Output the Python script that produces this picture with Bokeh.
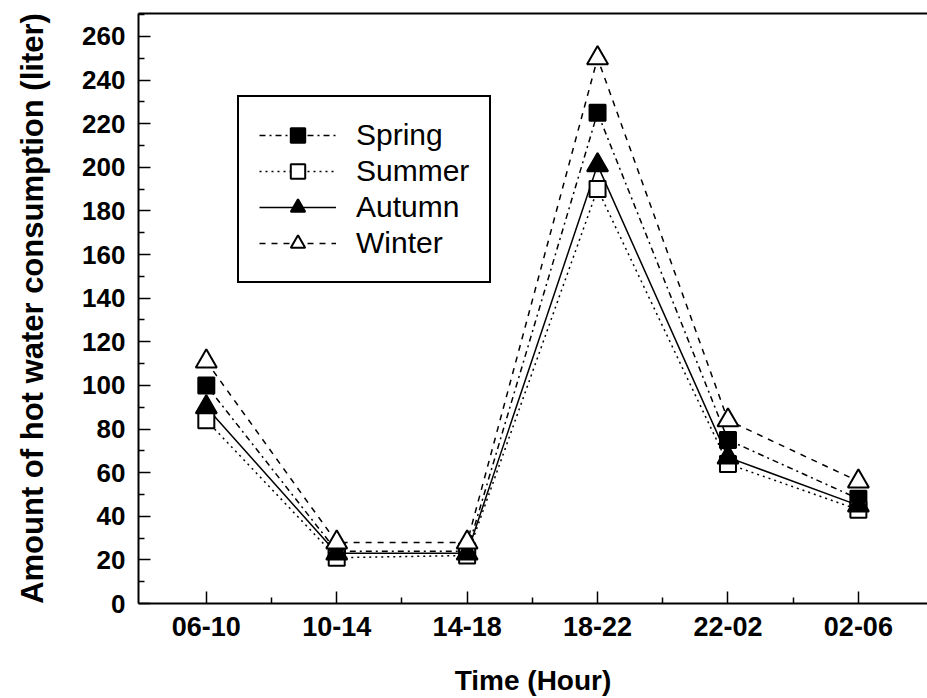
from bokeh.plotting import figure
from bokeh.models import Range1d, FixedTicker, Legend, LegendItem, LinearAxis
from bokeh.embed import file_html
from bokeh.resources import INLINE

periods = ["06-10", "10-14", "14-18", "18-22", "22-02", "02-06"]
spring = [100, 24, 24, 225, 75, 48]
summer = [84, 21, 22, 190, 64, 43]
autumn = [90, 23, 23, 201, 67, 45]
winter = [111, 28, 28, 250, 84, 56]
y_major = list(range(0, 261, 20))
y_minor = list(range(10, 271, 20))

x = list(range(len(periods)))
FONT = "Liberation Sans"

p = figure(width=927, height=698, output_backend="svg", toolbar_location=None,
           x_range=Range1d(-0.52, 5.53), y_range=Range1d(0, 270.5),
           min_border_left=138, min_border_right=0, min_border_top=13, min_border_bottom=93,
           x_axis_label="Time (Hour)", y_axis_label="Amount of hot water consumption (liter)")
p.outline_line_color = None
p.grid.grid_line_color = None
p.background_fill_color = "white"
p.border_fill_color = "white"

xa = p.below[0]
ya = p.left[0]
xa.ticker = FixedTicker(ticks=x, minor_ticks=[i + 0.5 for i in x[:-1]])
xa.major_label_overrides = {i: s for i, s in zip(x, periods)}
ya.ticker = FixedTicker(ticks=y_major, minor_ticks=y_minor)

for ax in (xa, ya):
    ax.axis_line_width = 2
    ax.axis_line_color = "black"
    ax.major_tick_in = 12
    ax.major_tick_out = 0
    ax.minor_tick_in = 6
    ax.minor_tick_out = 0
    ax.major_tick_line_width = 1.5
    ax.minor_tick_line_width = 1.5
    ax.major_tick_line_color = "black"
    ax.minor_tick_line_color = "black"
    ax.major_label_text_font = FONT
    ax.major_label_text_font_style = "bold"
    ax.major_label_text_font_size = "26px"
    ax.major_label_text_color = "black"
    ax.axis_label_text_font = FONT
    ax.axis_label_text_font_style = "bold"
    ax.axis_label_text_font_size = "28px"
    ax.axis_label_text_color = "black"

xa.major_label_text_font_size = "27px"
xa.major_label_standoff = 13
xa.axis_label_standoff = 26
ya.major_label_standoff = 13
ya.axis_label_standoff = 29
ya.axis_label_text_font_size = "31px"

# top spine
top = LinearAxis(ticker=FixedTicker(ticks=[]), major_label_text_font_size="0px",
                 major_tick_in=0, major_tick_out=0, minor_tick_in=0, minor_tick_out=0,
                 axis_line_width=2, axis_line_color="black")
p.add_layout(top, "above")

series = [
    ("Spring", spring, "square", "black", 16, "dashdot"),
    ("Summer", summer, "square", "white", 16, "dotted"),
    ("Autumn", autumn, "triangle", "black", 21, "solid"),
    ("Winter", winter, "triangle", "white", 21, "dashed"),
]

items = []
lines = []
for name, vals, marker, fill, size, dash in series:
    ln = p.line(x, vals, line_color="black", line_width=1.5, line_dash=dash)
    lines.append((name, ln, vals, marker, fill, size))

for name, ln, vals, marker, fill, size in lines:
    mk = p.scatter(x, vals, marker=marker, size=size, fill_color=fill,
                   line_color="black", line_width=2)
    items.append(LegendItem(label=name, renderers=[ln, mk]))

legend = Legend(items=items, location=(99, 320), border_line_color="black",
                border_line_width=2, border_line_alpha=1.0, padding=20, spacing=0, margin=0,
                glyph_width=77, glyph_height=36, label_height=36,
                label_standoff=20, label_text_font=FONT,
                label_text_font_size="30px", label_text_color="black",
                background_fill_alpha=1.0)
p.add_layout(legend, "center")

open("out.html", "w").write(file_html(p, INLINE))
